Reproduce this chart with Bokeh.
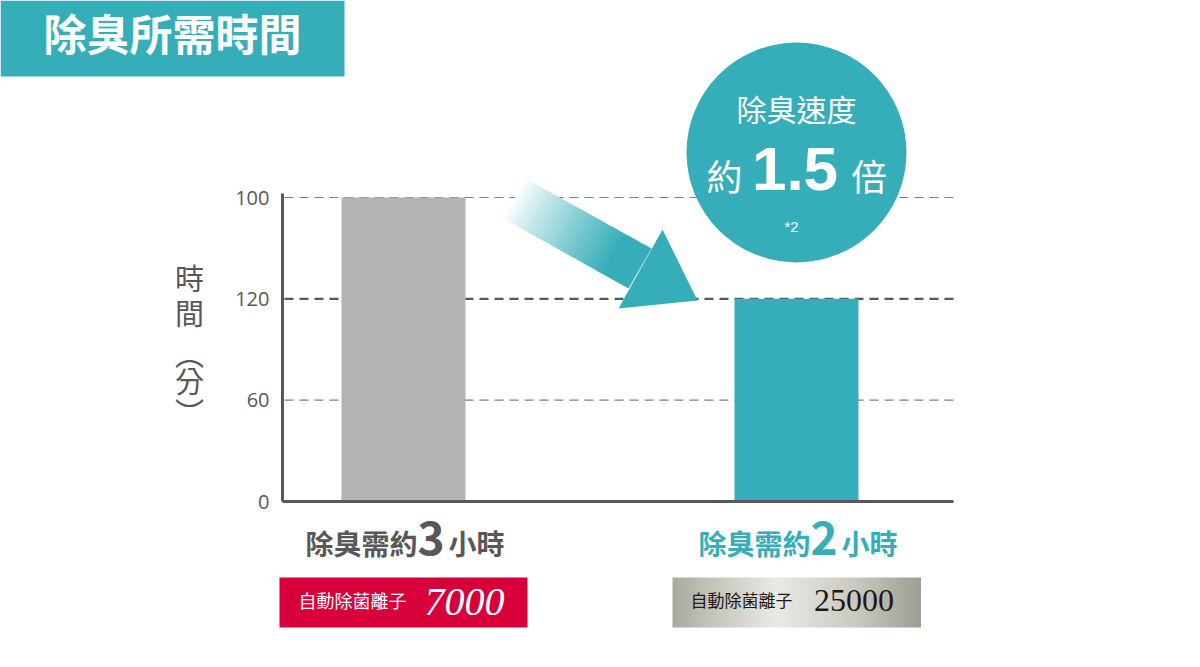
from bokeh.plotting import figure
from bokeh.models import Range1d, LinearAxis, FixedTicker
from bokeh.core.properties import value
from bokeh.embed import file_html
from bokeh.resources import INLINE

# ---------------- data ----------------
chart_title = "除臭所需時間"
cat_pos = [1, 2]                      # category positions
ion_counts = ["7000", "25000"]        # 自動除菌離子 model
minutes = [180, 120]                  # deodorising time (minutes)
hours = ["3", "2"]
label_prefix = "除臭需約"
label_suffix = "小時"
badge_text = "自動除菌離子"
tick_values = [0, 60, 120, 180]
tick_labels = ["0", "60", "120", "100"]
y_title_chars = ["時", "間", "︵", "分", "︶"]
speed_title = "除臭速度"
speed_pre, speed_value, speed_post, speed_note = "約", "1.5", "倍", "*2"

# ---------------- styles ----------------
TEAL = "#36AEB9"
GRAY_TXT = "#595757"
bar_colors = ["#B3B3B3", TEAL]
label_colors = [GRAY_TXT, TEAL]
CJK = "Noto Sans CJK TC"

OX, OY = 0, 0
W, H = 1192, 659
X0PX, UX = 403.0, 393.0          # pixel of category 1, pixels per category
Y0PX, KY = 501.0, 304.0 / 180.0  # pixel of value 0, pixels per minute


def xd(px):
    return 1 + (px - X0PX) / UX


def yd(py):
    return (Y0PX - py) / KY


def xp(x):
    return X0PX + (x - 1) * UX


p = figure(width=W, height=H, output_backend="svg", toolbar_location=None,
           x_range=Range1d(xd(OX), xd(OX + W)), y_range=Range1d(yd(OY + H), yd(OY)),
           x_axis_type=None, y_axis_type=None, min_border=0,
           outline_line_color=None, background_fill_color="white",
           border_fill_color="white")
p.extra_x_ranges = {"px": Range1d(OX, OX + W)}
p.extra_y_ranges = {"px": Range1d(OY + H, OY)}
PX = dict(x_range_name="px", y_range_name="px")
MID = dict(text_baseline="middle")

# title banner
p.quad(left=[0], right=[344], top=[0], bottom=[76], fill_color=TEAL, line_color=None, **PX)
p.text(x=[172], y=[31], text=[chart_title], text_font=value(CJK), text_font_size="43px",
       text_font_style="bold", text_color="white", text_align="center", **MID, **PX)

# grid lines (dashed)
grid_vals = tick_values[1:]
grid_w = [2.2 if v == minutes[1] else 1.2 for v in grid_vals]
grid_c = [GRAY_TXT if v == minutes[1] else "#7d7d7d" for v in grid_vals]
p.segment(x0=[xd(284)] * len(grid_vals), x1=[xd(953)] * len(grid_vals),
          y0=grid_vals, y1=grid_vals, line_width=grid_w, line_color=grid_c,
          line_dash="9 6")

# bars
p.vbar(x=cat_pos, top=minutes, bottom=0, width=124 / UX, fill_color=bar_colors,
       line_color=None)

# axes
yax = LinearAxis(fixed_location=xd(282), bounds=(0, yd(193)),
                 ticker=FixedTicker(ticks=tick_values),
                 major_label_overrides=dict(zip(tick_values, tick_labels)),
                 axis_line_color=GRAY_TXT, axis_line_width=3,
                 major_tick_line_color=None, minor_tick_line_color=None,
                 major_tick_out=0, major_tick_in=0, major_label_standoff=13,
                 major_label_text_font="Open Sans", major_label_text_font_size="20px",
                 major_label_text_color=GRAY_TXT)
p.add_layout(yax, "left")
xax = LinearAxis(fixed_location=0, bounds=(xd(282), xd(953)),
                 ticker=FixedTicker(ticks=[]), axis_line_color=GRAY_TXT,
                 axis_line_width=3, major_tick_line_color=None,
                 minor_tick_line_color=None, major_label_text_font_size="0px")
p.add_layout(xax, "below")

# y-axis title (vertical)
p.text(x=[189] * 5, y=[276, 311, 352, 379, 410], text=y_title_chars,
       text_font=value(CJK), text_font_size="29px", text_color=GRAY_TXT,
       text_align="center", **MID, **PX)

# category labels under bars
p.text(x=cat_pos, y=[542, 542], text=[label_prefix] * 2, x_offset=14,
       text_font=value(CJK), text_font_size="28px", text_font_style="bold",
       text_color=label_colors, text_align="right", y_range_name="px", **MID)
p.text(x=cat_pos, y=[537, 537], text=hours, x_offset=27.5,
       text_font=value(CJK), text_font_size="46px", text_font_style="bold",
       text_color=label_colors, text_align="center", y_range_name="px", **MID)
p.text(x=cat_pos, y=[542, 542], text=[label_suffix] * 2, x_offset=45,
       text_font=value(CJK), text_font_size="28px", text_font_style="bold",
       text_color=label_colors, text_align="left", y_range_name="px", **MID)

# badges
p.rect(x=[cat_pos[0]], y=[602], width=248, height=50, width_units="screen",
       height_units="screen", fill_color="#D7003A", line_color=None, y_range_name="px")
stops = [(0.0, (168, 167, 158)), (0.12, (190, 190, 182)), (0.42, (234, 234, 228)),
         (0.75, (200, 199, 191)), (1.0, (158, 157, 148))]


def silver(t):
    for (t0, c0), (t1, c1) in zip(stops[:-1], stops[1:]):
        if t0 <= t <= t1:
            f = (t - t0) / (t1 - t0)
            return "#%02x%02x%02x" % tuple(int(round(a + (b - a) * f)) for a, b in zip(c0, c1))
    return "#%02x%02x%02x" % stops[-1][1]


N = 62
sx0 = xp(cat_pos[1]) - 124
lefts = [sx0 + 4 * i for i in range(N)]
p.quad(left=lefts, right=[l + 4.6 for l in lefts], top=[577] * N, bottom=[627] * N,
       fill_color=[silver((i + 0.5) / N) for i in range(N)], line_color=None, **PX)

p.text(x=[cat_pos[0]], y=[599], text=[badge_text], x_offset=-105,
       text_font=value(CJK), text_font_size="18px", text_color="white",
       text_align="left", y_range_name="px", **MID)
p.text(x=[cat_pos[0]], y=[601], text=[ion_counts[0]], x_offset=61,
       text_font=value("Liberation Serif"), text_font_size="40px",
       text_font_style="italic", text_color="white", text_align="center",
       y_range_name="px", **MID)
p.text(x=[cat_pos[1]], y=[599], text=[badge_text], x_offset=-106,
       text_font=value(CJK), text_font_size="17px", text_color="#231815",
       text_align="left", y_range_name="px", **MID)
p.text(x=[cat_pos[1]], y=[600], text=[ion_counts[1]], x_offset=57.5,
       text_font=value("Liberation Serif"), text_font_size="32px",
       text_color="#231815", text_align="center", y_range_name="px", **MID)

# gradient arrow (from bar 1 level toward bar 2 level)
A, B, C, D = (525, 178), (503, 218), (651, 248), (628, 288)
M = 48
xs, ys, cols = [], [], []
tr, tg, tb = 0x36, 0xAE, 0xB9
for i in range(M):
    t0, t1 = i / M, (i + 1) / M
    t0e = max(0, t0 - 0.004)
    pts = [(A[0] + (C[0] - A[0]) * t0e, A[1] + (C[1] - A[1]) * t0e),
           (A[0] + (C[0] - A[0]) * t1, A[1] + (C[1] - A[1]) * t1),
           (B[0] + (D[0] - B[0]) * t1, B[1] + (D[1] - B[1]) * t1),
           (B[0] + (D[0] - B[0]) * t0e, B[1] + (D[1] - B[1]) * t0e)]
    f = min(1.0, ((t0 + t1) / 2) / 0.8) ** 0.9
    col = "#%02x%02x%02x" % (int(255 + (tr - 255) * f), int(255 + (tg - 255) * f),
                             int(255 + (tb - 255) * f))
    xs.append([q[0] for q in pts])
    ys.append([q[1] for q in pts])
    cols.append(col)
xs.append([662, 697, 618])
ys.append([229, 300, 308])
cols.append(TEAL)
p.patches(xs=xs, ys=ys, fill_color=cols, line_color=None, **PX)

# speed circle
p.circle(x=[xp(cat_pos[1])], y=[152], radius=110, fill_color=TEAL, line_color=None, **PX)
p.text(x=[796], y=[107], text=[speed_title], text_font=value(CJK), text_font_size="30px",
       text_color="white", text_align="center", **MID, **PX)
p.text(x=[724], y=[174], text=[speed_pre], text_font=value(CJK), text_font_size="36px",
       text_color="white", text_align="center", **MID, **PX)
p.text(x=[794.5], y=[168], text=[speed_value], text_font=value("Liberation Sans"),
       text_font_size="62px", text_font_style="bold", text_color="white",
       text_align="center", **MID, **PX)
p.text(x=[868.5], y=[174], text=[speed_post], text_font=value(CJK), text_font_size="36px",
       text_color="white", text_align="center", **MID, **PX)
p.text(x=[791], y=[226], text=[speed_note], text_font=value("Liberation Sans"),
       text_font_size="15px", text_color="white", text_align="center", **MID, **PX)

open("out.html", "w").write(file_html(p, INLINE))
